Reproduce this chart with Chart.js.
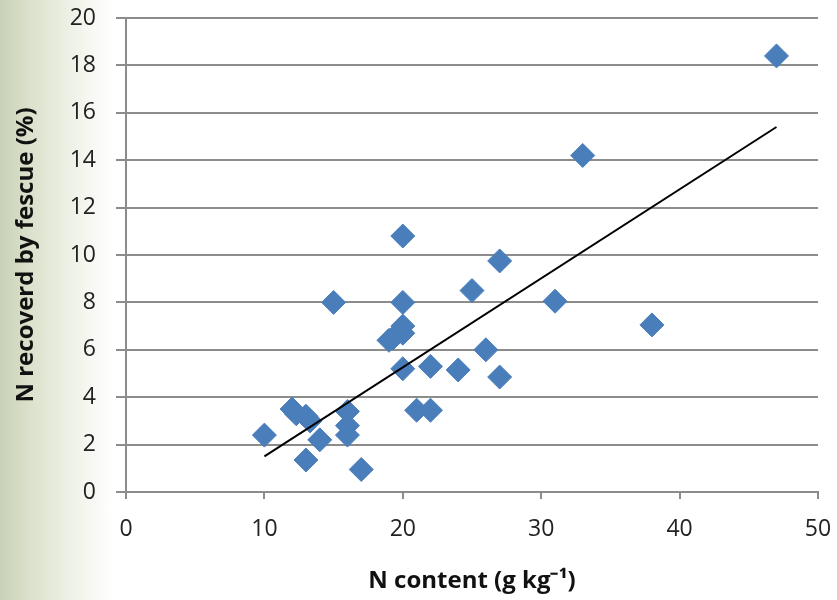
<!DOCTYPE html>
<html>
<head>
<meta charset="utf-8">
<script src="https://cdn.jsdelivr.net/npm/chart.js@4.4.0/dist/chart.umd.min.js"></script>
<style>
  html, body { margin: 0; padding: 0; }
  body {
    width: 837px; height: 600px; overflow: hidden;
    background: linear-gradient(to right, #c9d2b6 0px, #dbe1cc 30px, #eef1e6 70px, #ffffff 112px);
  }
  canvas { display: block; }
</style>
</head>
<body>
<canvas id="scatterChart" width="837" height="600"></canvas>
<script>
// ======= DONNEES =======
const nContent = [10, 12, 12.3, 13, 13.3, 13, 14, 15, 16, 16, 16, 17, 19, 19.3, 20, 20, 20, 20, 20, 21, 22, 22, 24, 25, 26, 27, 27, 31, 33, 38, 47];
const nRecovered = [2.4, 3.5, 3.3, 3.2, 3.0, 1.35, 2.2, 8.0, 3.4, 2.8, 2.4, 0.95, 6.4, 6.5, 7.0, 6.7, 8.0, 10.8, 5.2, 3.45, 3.45, 5.3, 5.15, 8.5, 6.0, 9.75, 4.85, 8.05, 14.2, 7.05, 18.4];
const trendX = [10, 47];
const trendY = [1.5, 15.4];
const xTicks = [0, 10, 20, 30, 40, 50];
const yTicks = [0, 2, 4, 6, 8, 10, 12, 14, 16, 18, 20];

const points = nContent.map((x, i) => ({ x: x, y: nRecovered[i] }));
const trend = trendX.map((x, i) => ({ x: x, y: trendY[i] }));

const gridGray = "#8c8c8c";
const tickFont = { family: "'Open Sans', 'Liberation Sans', sans-serif", size: 23 };
const titleFont = { family: "'Open Sans', 'Liberation Sans', sans-serif", size: 24, weight: "bold" };

new Chart(document.getElementById("scatterChart"), {
  type: "scatter",
  data: {
    datasets: [{
      label: "N recovered",
      data: points,
      pointStyle: "rectRot",
      pointRadius: 12,
      pointHoverRadius: 12,
      backgroundColor: "#4a7ebb",
      borderColor: "#4a7ebb",
      borderWidth: 1,
      order: 2
    }, {
      label: "Trend",
      data: trend,
      showLine: true,
      pointRadius: 0,
      borderColor: "#000000",
      borderWidth: 2,
      fill: false,
      order: 1
    }]
  },
  options: {
    responsive: false,
    maintainAspectRatio: false,
    animation: false,
    layout: { padding: { top: 18, right: 19, left: 0, bottom: 0 } },
    plugins: {
      legend: { display: false },
      tooltip: { enabled: false }
    },
    scales: {
      x: {
        type: "linear",
        min: 0,
        max: 50,
        afterBuildTicks: axis => { axis.ticks = xTicks.map(v => ({ value: v })); },
        afterFit: axis => { axis.height = 108; axis.paddingLeft = 0; axis.paddingRight = 0; },
        grid: { drawOnChartArea: false, drawTicks: true, tickLength: 7, color: gridGray, lineWidth: 2 },
        border: { color: gridGray, width: 2 },
        ticks: { color: "#222", font: tickFont, padding: 17 },
        title: { display: true, text: "N content (g kg\u207B\u00B9)", color: "#111", font: titleFont, padding: { top: 6 } }
      },
      y: {
        type: "linear",
        min: 0,
        max: 20,
        afterBuildTicks: axis => { axis.ticks = yTicks.map(v => ({ value: v })); },
        afterFit: axis => { axis.width = 126; axis.paddingTop = 0; axis.paddingBottom = 0; },
        grid: { color: gridGray, lineWidth: 2, tickLength: 10, drawTicks: true },
        border: { color: gridGray, width: 2 },
        ticks: { color: "#222", font: tickFont, padding: 20 },
        title: { display: true, text: "N recoverd by fescue (%)", color: "#111", font: titleFont, padding: { top: 12, bottom: 4 } }
      }
    }
  }
});
</script>
</body>
</html>
